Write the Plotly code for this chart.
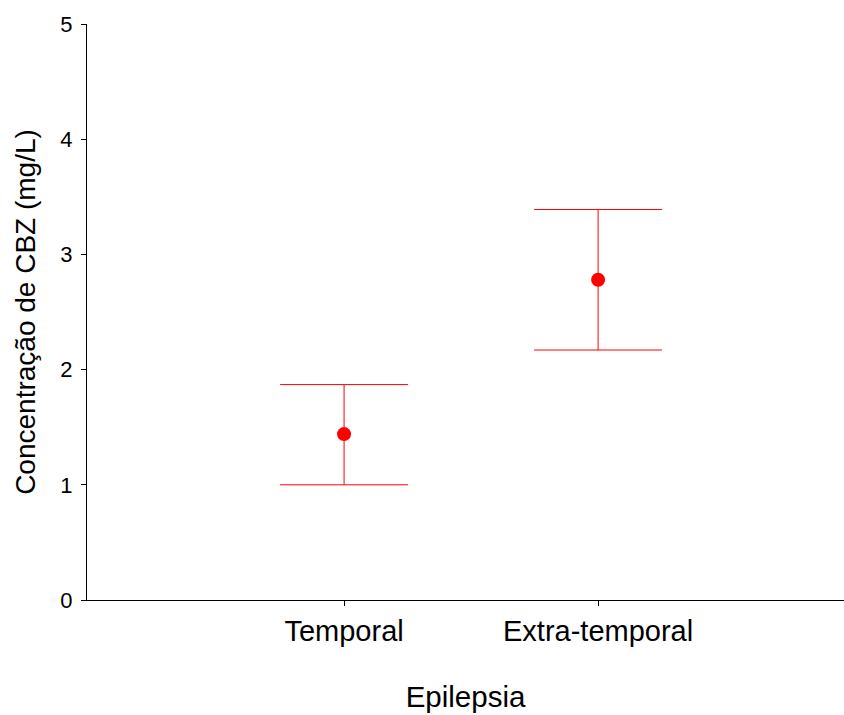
import plotly.graph_objects as go

categories = ["Temporal", "Extra-temporal"]
means = [1.44, 2.78]
err_plus = [0.43, 0.61]
err_minus = [0.44, 0.61]
y_ticks = [0, 1, 2, 3, 4, 5]

fig = go.Figure()
fig.add_trace(go.Scatter(
    x=categories, y=means, mode="markers",
    marker=dict(color="#ff0000", size=14, symbol="circle"),
    error_y=dict(type="data", symmetric=False, array=err_plus, arrayminus=err_minus,
                 color="#ff0000", thickness=1, width=64),
    showlegend=False,
))

font_family = "Liberation Sans, Arial, sans-serif"
fig.update_layout(
    width=844, height=715,
    margin=dict(l=87, r=0, t=24, b=115),
    plot_bgcolor="white", paper_bgcolor="white",
    font=dict(family=font_family, color="black", size=24),
    xaxis=dict(
        type="category", range=[-1.012, 1.968],
        showline=True, linecolor="black", linewidth=1,
        ticks="outside", ticklen=5, tickcolor="black",
        showgrid=False, zeroline=False,
        tickfont=dict(size=29),
        title=dict(text="Epilepsia", font=dict(size=29.5), standoff=40),
    ),
    yaxis=dict(
        range=[0, 5], tickvals=y_ticks,
        showline=True, linecolor="black", linewidth=1,
        ticks="outside", ticklen=5, tickcolor="black",
        showgrid=False, zeroline=False,
        tickfont=dict(size=22), ticklabelstandoff=4,
        title=dict(text="Concentração de CBZ (mg/L)", font=dict(size=28), standoff=16),
    ),
)

fig.write_html(
    "out.html",
    config={"displayModeBar": False},
    post_script="document.body.style.margin='0px';document.body.style.overflow='hidden';",
)
